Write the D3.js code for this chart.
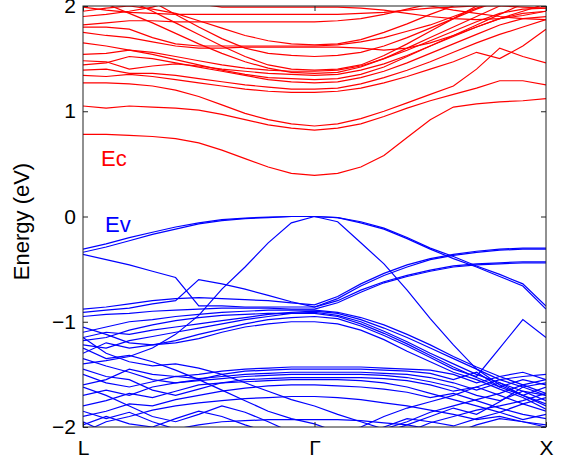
<!DOCTYPE html>
<html>
<head>
<meta charset="utf-8">
<script src="https://cdn.jsdelivr.net/npm/d3@7"></script>
<style>
  body { margin: 0; background: #fff; }
  text { font-family: "Liberation Sans", Arial, Helvetica, sans-serif; }
</style>
</head>
<body>
<div id="chart"></div>
<script>
// k path: L -> Gamma -> X, 21 sample points
var kPoints = [0, 0.1, 0.2, 0.3, 0.4, 0.5, 0.6, 0.7, 0.8, 0.9, 1.0,
               1.1, 1.2, 1.3, 1.4, 1.5, 1.6, 1.7, 1.8, 1.9, 2.0];
var kLabels = ["L", "Γ", "X"];
var kTickPos = [0, 1, 2];
var yTicks = [-2, -1, 0, 1, 2];

// conduction bands (eV)
var conduction = [
  [0.78,0.78,0.77,0.76,0.74,0.70,0.63,0.55,0.47,0.41,0.39, 0.41,0.47,0.58,0.75,0.92,1.04,1.07,1.09,1.10,1.12],
  [1.05,1.03,1.05,1.04,1.03,1.01,0.97,0.92,0.87,0.84,0.82, 0.84,0.88,0.95,1.03,1.10,1.16,1.22,1.29,1.29,1.25],
  [1.27,1.27,1.26,1.24,1.20,1.14,1.06,0.98,0.92,0.88,0.86, 0.88,0.93,1.00,1.08,1.16,1.24,1.40,1.60,1.52,1.46],
  [1.34,1.33,1.35,1.33,1.30,1.27,1.24,1.21,1.19,1.18,1.18, 1.19,1.22,1.27,1.33,1.40,1.47,1.56,1.50,1.62,1.78],
  [1.39,1.40,1.36,1.36,1.34,1.31,1.28,1.25,1.23,1.21,1.21, 1.22,1.26,1.32,1.39,1.47,1.56,1.65,1.73,1.80,1.87],
  [1.44,1.46,1.52,1.50,1.46,1.42,1.38,1.34,1.30,1.28,1.27, 1.28,1.32,1.38,1.46,1.55,1.64,1.73,1.82,1.88,1.90],
  [1.48,1.47,1.40,1.43,1.45,1.43,1.40,1.38,1.36,1.35,1.34, 1.35,1.39,1.45,1.53,1.62,1.71,1.80,1.88,1.93,1.95],
  [1.54,1.55,1.58,1.56,1.52,1.48,1.44,1.41,1.39,1.38,1.38, 1.39,1.43,1.50,1.58,1.67,1.76,1.85,1.93,1.97,1.98],
  [1.65,1.62,1.58,1.54,1.49,1.44,1.39,1.35,1.32,1.31,1.30, 1.31,1.35,1.42,1.52,1.62,1.72,1.82,1.92,2.02,2.10],
  [1.75,1.72,1.70,1.66,1.62,1.60,1.60,1.61,1.61,1.61,1.61, 1.61,1.60,1.58,1.60,1.65,1.72,1.80,1.88,1.95,2.02],
  [1.80,1.80,1.78,1.70,1.64,1.62,1.62,1.62,1.62,1.62,1.62, 1.63,1.66,1.70,1.76,1.82,1.90,1.98,2.05,2.10,2.15],
  [1.82,1.84,1.86,1.86,1.85,1.85,1.85,1.85,1.85,1.85,1.85, 1.86,1.88,1.92,1.97,2.02,2.06,2.10,2.10,2.10,2.10],
  [1.99,1.96,1.94,1.93,1.92,1.92,1.92,1.92,1.92,1.92,1.92, 1.92,1.93,1.94,1.96,1.98,1.99,2.00,2.00,1.99,1.98],
  [2.10,2.02,1.93,1.84,1.74,1.64,1.55,1.47,1.41,1.37,1.36, 1.37,1.42,1.50,1.60,1.70,1.80,1.90,2.00,2.10,2.20],
  [2.25,2.15,2.05,1.95,1.84,1.73,1.62,1.52,1.44,1.40,1.39, 1.40,1.44,1.53,1.64,1.76,1.88,2.00,2.10,2.20,2.30],
  [2.40,2.28,2.16,2.04,1.92,1.80,1.69,1.60,1.55,1.53,1.52, 1.53,1.56,1.62,1.70,1.79,1.88,1.97,2.05,2.10,2.15],
  [1.95,1.98,2.00,1.97,1.93,1.86,1.79,1.72,1.67,1.64,1.63, 1.64,1.68,1.75,1.83,1.92,2.00,2.10,2.20,2.30,2.40],
  [2.50,2.40,2.30,2.20,2.10,2.02,1.99,1.99,1.99,1.99,1.99, 1.99,1.98,1.96,1.93,1.90,1.88,1.87,1.88,1.91,1.95],
  [1.90,1.92,1.95,1.99,2.05,2.10,2.10,2.10,2.10,2.10,2.10, 2.10,2.10,2.08,2.04,2.00,1.96,1.93,1.90,1.88,1.87]
];

// valence bands (eV)
var valence = [
  [-0.31,-0.26,-0.20,-0.15,-0.10,-0.06,-0.03,-0.015,-0.005,0,0, -0.01,-0.05,-0.11,-0.20,-0.30,-0.38,-0.47,-0.55,-0.64,-0.85],
  [-0.34,-0.29,-0.23,-0.17,-0.12,-0.07,-0.04,-0.02,-0.01,0,0, -0.05,-0.25,-0.45,-0.70,-0.97,-1.22,-1.45,-1.60,-1.70,-1.80],
  [-1.40,-1.37,-1.33,-1.25,-1.12,-0.94,-0.69,-0.48,-0.25,-0.06,0, -0.01,-0.06,-0.12,-0.21,-0.31,-0.40,-0.48,-0.57,-0.66,-0.88],
  [-0.36,-0.41,-0.46,-0.52,-0.58,-0.85,-0.85,-0.86,-0.86,-0.86,-0.86, -0.78,-0.66,-0.56,-0.48,-0.41,-0.37,-0.34,-0.32,-0.31,-0.31],
  [-0.91,-0.89,-0.87,-0.83,-0.80,-0.60,-0.64,-0.69,-0.75,-0.81,-0.86, -0.80,-0.70,-0.62,-0.56,-0.51,-0.47,-0.45,-0.44,-0.43,-0.43],
  [-0.88,-0.86,-0.83,-0.80,-0.78,-0.77,-0.78,-0.79,-0.80,-0.82,-0.84, -0.76,-0.64,-0.54,-0.46,-0.40,-0.36,-0.33,-0.31,-0.30,-0.30],
  [-0.95,-0.93,-0.92,-0.90,-0.89,-0.88,-0.87,-0.87,-0.87,-0.88,-0.88, -0.82,-0.72,-0.63,-0.57,-0.52,-0.48,-0.46,-0.45,-0.44,-0.44],
  [-1.15,-1.10,-1.12,-1.08,-1.05,-1.02,-0.99,-0.96,-0.93,-0.91,-0.90, -0.92,-0.98,-1.06,-1.15,-1.25,-1.35,-1.45,-1.55,-1.62,-1.70],
  [-1.22,-1.25,-1.18,-1.14,-1.10,-1.06,-1.02,-0.98,-0.95,-0.92,-0.91, -0.94,-1.00,-1.09,-1.19,-1.30,-1.40,-1.50,-1.58,-1.66,-1.75],
  [-1.05,-1.12,-1.20,-1.22,-1.18,-1.12,-1.07,-1.02,-0.98,-0.96,-0.95, -0.97,-1.04,-1.13,-1.23,-1.34,-1.45,-1.52,-1.25,-0.98,-1.15],
  [-1.30,-1.20,-1.25,-1.22,-1.20,-1.16,-1.10,-1.05,-1.02,-1.00,-1.00, -1.02,-1.08,-1.17,-1.28,-1.38,-1.48,-1.55,-1.64,-1.72,-1.83],
  [-1.10,-1.05,-1.00,-0.98,-0.95,-0.93,-0.91,-0.90,-0.89,-0.89,-0.89, -0.91,-0.96,-1.03,-1.12,-1.22,-1.33,-1.43,-1.52,-1.60,-1.68],
  [-1.18,-1.15,-1.08,-1.03,-0.99,-0.96,-0.94,-0.93,-0.92,-0.92,-0.92, -0.95,-1.02,-1.11,-1.21,-1.32,-1.43,-1.53,-1.62,-1.70,-1.78],
  [-1.60,-1.55,-1.45,-1.50,-1.52,-1.50,-1.47,-1.45,-1.44,-1.43,-1.43, -1.43,-1.43,-1.44,-1.45,-1.46,-1.50,-1.58,-1.52,-1.48,-1.55],
  [-1.35,-1.42,-1.48,-1.55,-1.58,-1.55,-1.50,-1.47,-1.46,-1.45,-1.45, -1.45,-1.45,-1.46,-1.47,-1.49,-1.55,-1.48,-1.62,-1.55,-1.60],
  [-1.50,-1.58,-1.62,-1.57,-1.52,-1.54,-1.52,-1.50,-1.49,-1.48,-1.48, -1.48,-1.48,-1.49,-1.50,-1.53,-1.58,-1.65,-1.58,-1.70,-1.62],
  [-1.70,-1.65,-1.70,-1.62,-1.58,-1.56,-1.54,-1.52,-1.51,-1.50,-1.50, -1.50,-1.50,-1.51,-1.53,-1.57,-1.62,-1.70,-1.75,-1.66,-1.70],
  [-1.45,-1.52,-1.55,-1.65,-1.70,-1.64,-1.58,-1.55,-1.54,-1.53,-1.53, -1.53,-1.53,-1.54,-1.56,-1.60,-1.66,-1.62,-1.70,-1.78,-1.72],
  [-1.80,-1.75,-1.68,-1.72,-1.66,-1.60,-1.58,-1.57,-1.56,-1.55,-1.55, -1.55,-1.56,-1.58,-1.62,-1.68,-1.74,-1.80,-1.86,-1.78,-1.85],
  [-2.05,-1.95,-1.90,-1.84,-1.80,-1.77,-1.75,-1.73,-1.72,-1.71,-1.71, -1.72,-1.74,-1.77,-1.80,-1.84,-1.88,-1.93,-1.90,-1.95,-2.00],
  [-1.90,-1.85,-1.78,-1.80,-1.74,-1.70,-1.66,-1.63,-1.61,-1.60,-1.60, -1.61,-1.62,-1.64,-1.67,-1.72,-1.68,-1.75,-1.82,-1.88,-1.92],
  [-1.95,-2.05,-2.10,-2.08,-2.02,-1.98,-1.95,-1.94,-1.93,-1.93,-1.93, -1.93,-1.94,-1.96,-1.98,-2.02,-2.06,-1.98,-1.92,-1.95,-1.98],
  [-1.15,-1.30,-1.38,-1.42,-1.40,-1.44,-1.50,-1.58,-1.66,-1.74,-1.80, -1.88,-1.95,-2.02,-1.95,-1.86,-1.80,-1.74,-1.68,-1.60,-1.55],
  [-1.25,-1.35,-1.32,-1.38,-1.46,-1.55,-1.65,-1.75,-1.85,-1.92,-1.97, -2.05,-2.00,-1.90,-1.82,-1.76,-1.70,-1.62,-1.55,-1.52,-1.50],
  [-1.62,-1.70,-1.80,-1.90,-1.95,-1.88,-1.80,-1.86,-1.95,-2.05,-2.10, -2.10,-2.10,-2.05,-1.98,-1.90,-1.82,-1.88,-1.76,-1.62,-1.58],
  [-1.85,-1.92,-1.86,-1.95,-2.02,-2.10,-2.20,-2.25,-2.30,-2.30,-2.30, -2.30,-2.25,-2.15,-2.05,-1.96,-1.90,-1.84,-1.80,-1.75,-1.68],
  [-1.98,-1.90,-1.97,-2.00,-1.92,-1.85,-1.90,-1.98,-2.05,-2.10,-2.12, -2.12,-2.08,-2.00,-1.92,-1.95,-1.99,-1.92,-1.86,-1.93,-1.88]
];

// set dimensions of the band plot
var margin = { top: 6, right: 16, bottom: 34, left: 83 },
  width = 562 - margin.left - margin.right,
  height = 461 - margin.top - margin.bottom;

var svg = d3.select("#chart").append("svg")
  .attr("width", 562)
  .attr("height", 461)
  .append("g")
  .attr("transform", "translate(" + margin.left + "," + margin.top + ")");

var x = d3.scaleLinear().domain([0, 2]).range([0, width]);
var y = d3.scaleLinear().domain([-2, 2]).range([height, 0]);

// keep the bands inside the frame
svg.append("defs").append("clipPath")
  .attr("id", "clip")
  .append("rect")
  .attr("width", width)
  .attr("height", height);

var line = d3.line()
  .x(function (d, i) { return x(kPoints[i]); })
  .y(function (d) { return y(d); });

var bands = svg.append("g").attr("clip-path", "url(#clip)");

bands.selectAll(".cb")
  .data(conduction)
  .enter()
  .append("path")
  .attr("class", "cb")
  .attr("d", line)
  .attr("fill", "none")
  .attr("stroke", "#ff0000")
  .attr("stroke-width", 1.2);

bands.selectAll(".vb")
  .data(valence)
  .enter()
  .append("path")
  .attr("class", "vb")
  .attr("d", line)
  .attr("fill", "none")
  .attr("stroke", "#0000ff")
  .attr("stroke-width", 1.2);

// axes, ticks pointing inward like the original
var fontSize = "21px";

var yAxis = svg.append("g")
  .call(d3.axisLeft(y).tickValues(yTicks).tickFormat(d3.format("d"))
    .tickSizeInner(-5).tickSizeOuter(0).tickPadding(7));
yAxis.selectAll("text").style("font-size", fontSize).attr("fill", "#000");

svg.append("g")
  .attr("transform", "translate(" + width + ",0)")
  .call(d3.axisRight(y).tickValues(yTicks).tickSizeInner(-5).tickSizeOuter(0).tickFormat(""));

var xAxis = svg.append("g")
  .attr("transform", "translate(0," + height + ")")
  .call(d3.axisBottom(x).tickValues(kTickPos).tickSizeInner(-5).tickSizeOuter(0).tickPadding(13)
    .tickFormat(function (d, i) { return kLabels[i]; }));
xAxis.selectAll("text").style("font-size", fontSize).attr("fill", "#000");

svg.append("g")
  .call(d3.axisTop(x).tickValues(kTickPos).tickSizeInner(-5).tickSizeOuter(0).tickFormat(""));

svg.selectAll(".domain").remove();
svg.selectAll(".tick line").attr("stroke", "#222");

// frame
svg.append("rect")
  .attr("width", width)
  .attr("height", height)
  .attr("fill", "none")
  .attr("stroke", "#222")
  .attr("stroke-width", 1);

// y label
svg.append("text")
  .attr("transform", "translate(" + (-margin.left + 29) + "," + (height / 2 + 5) + ")rotate(-90)")
  .attr("text-anchor", "middle")
  .style("font-size", "22px")
  .text("Energy (eV)");

// band edge labels
svg.append("text")
  .attr("x", 18)
  .attr("y", y(0.48))
  .attr("fill", "#ff0000")
  .style("font-size", "22px")
  .text("Ec");

svg.append("text")
  .attr("x", 22)
  .attr("y", y(-0.15))
  .attr("fill", "#0000ff")
  .style("font-size", "22px")
  .text("Ev");
</script>
</body>
</html>
